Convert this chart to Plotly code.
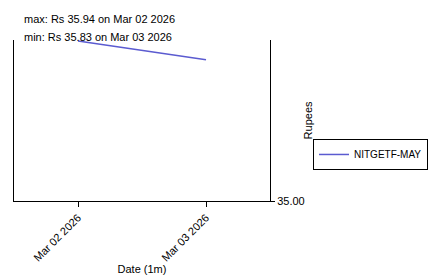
import plotly.graph_objects as go

dates = ["2026-03-02", "2026-03-03"]
prices = [35.94, 35.83]
series_name = "NITGETF-MAY"
tick_dates = ["2026-03-02", "2026-03-03"]
tick_text = ["Mar 02 2026", "Mar 03 2026"]
y_ticks = [35.0]
y_tick_text = ["35.00"]

font = dict(family="Liberation Sans, Arial, sans-serif", size=11, color="black")

fig = go.Figure()
fig.add_trace(go.Scatter(x=dates, y=prices, mode="lines", name=series_name,
                         line=dict(color="#5b5bd0", width=1.5)))

fig.update_layout(
    width=433, height=275,
    margin=dict(l=14, r=163, t=40, b=74, autoexpand=False),
    paper_bgcolor="white", plot_bgcolor="white",
    font=font,
    showlegend=True,
    legend=dict(x=1.168, y=0.289, xanchor="left", yanchor="middle",
                bordercolor="black", borderwidth=1,
                font=dict(family=font["family"], size=10, color="black")),
    xaxis=dict(range=["2026-03-01 12:00", "2026-03-03 12:00"],
               tickvals=tick_dates, ticktext=tick_text, tickangle=-45,
               showline=True, linecolor="black", linewidth=1,
               ticks="outside", ticklen=5, tickcolor="black",
               showgrid=False, zeroline=False, automargin=False,
               title=dict(text="Date (1m)", font=font, standoff=4)),
    yaxis=dict(range=[35.0, 35.946], side="right",
               tickvals=y_ticks, ticktext=y_tick_text,
               showline=True, mirror=True, linecolor="black", linewidth=1,
               ticks="outside", ticklen=4, tickcolor="black",
               showgrid=False, zeroline=False, automargin=False),
)

fig.add_annotation(text="Rupees", xref="paper", yref="paper", x=1.148, y=0.5,
                   textangle=-90, showarrow=False, font=font,
                   xanchor="center", yanchor="middle")
fig.add_annotation(text="max: Rs 35.94 on Mar 02 2026", xref="paper", yref="paper",
                   x=0.031, y=1.13, xanchor="left", yanchor="middle",
                   showarrow=False, font=font)
fig.add_annotation(text="min: Rs 35.83 on Mar 03 2026", xref="paper", yref="paper",
                   x=0.031, y=1.019, xanchor="left", yanchor="middle",
                   showarrow=False, font=font)

fig.write_html("out.html")
